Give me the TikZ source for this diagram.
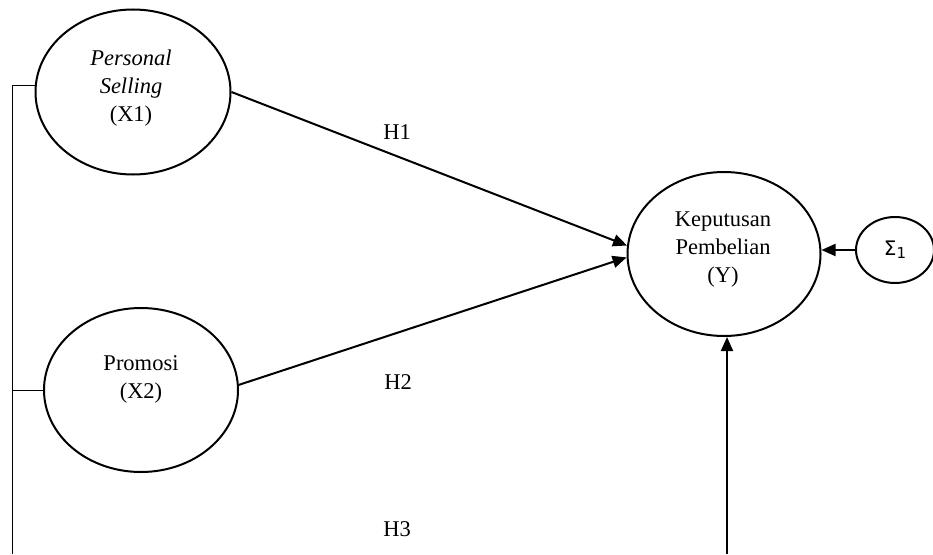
\documentclass[tikz,border=0pt]{standalone}
\usepackage{fontspec}
\setmainfont{Liberation Serif}
\newfontfamily\dejavu{DejaVu Sans}
\usetikzlibrary{arrows.meta,shapes.geometric}
\tikzset{
  latent/.style={ellipse, draw, line width=2pt, inner sep=0pt, align=center,
    font=\fontsize{22.5}{28}\selectfont},
  path/.style={line width=2pt, -{Triangle[length=14pt,width=12pt]}},
  bracket/.style={line width=1pt},
  hlab/.style={font=\fontsize{22.5}{28}\selectfont, inner sep=0pt}
}
\begin{document}
\begin{tikzpicture}[x=1pt,y=-1pt]
\useasboundingbox (0,0) rectangle (933,554);
\node[latent, minimum width=195pt, minimum height=165pt] (X1) at (133,92) {};
\node[font=\fontsize{22.5}{28}\selectfont, align=center, inner sep=0pt] (X1t) at (131,88) {\textit{Personal}\\\textit{Selling}\\(X1)};
\node[latent, minimum width=194pt, minimum height=164pt] (X2) at (141,390) {};
\node[font=\fontsize{22.5}{28}\selectfont, align=center, inner sep=0pt] (X2t) at (141,379) {Promosi\\(X2)};
\node[latent, minimum width=193pt, minimum height=164pt] (Y) at (724,254) {};
\node[font=\fontsize{22.5}{28}\selectfont, align=center, inner sep=0pt] (Yt) at (723,250) {Keputusan\\Pembelian\\(Y)};
\node[latent, minimum width=78pt, minimum height=66pt, font=\dejavu\fontsize{20}{22}\selectfont] (S) at (895,250) {Σ\raisebox{-3pt}{\fontsize{15}{15}\selectfont 1}};
\coordinate (bot) at (12,554);
\coordinate (b3) at (727,554);
\draw[bracket] (X1.176) -| (bot);
\draw[bracket] (X2.west) -- (X2.west -| bot);
\draw[path] (X1.east) -- (Y.175);
\draw[path] (X2.3) -- (Y.182);
\draw[path] (S.west) -- (S.west -| Y.east);
\draw[path] (b3) -- (b3 |- Y.south);
\node[hlab] (H1) at (397,132) {H1};
\node[hlab] (H2) at (398,382) {H2};
\node[hlab] (H3) at (397,529) {H3};
\end{tikzpicture}
\end{document}
